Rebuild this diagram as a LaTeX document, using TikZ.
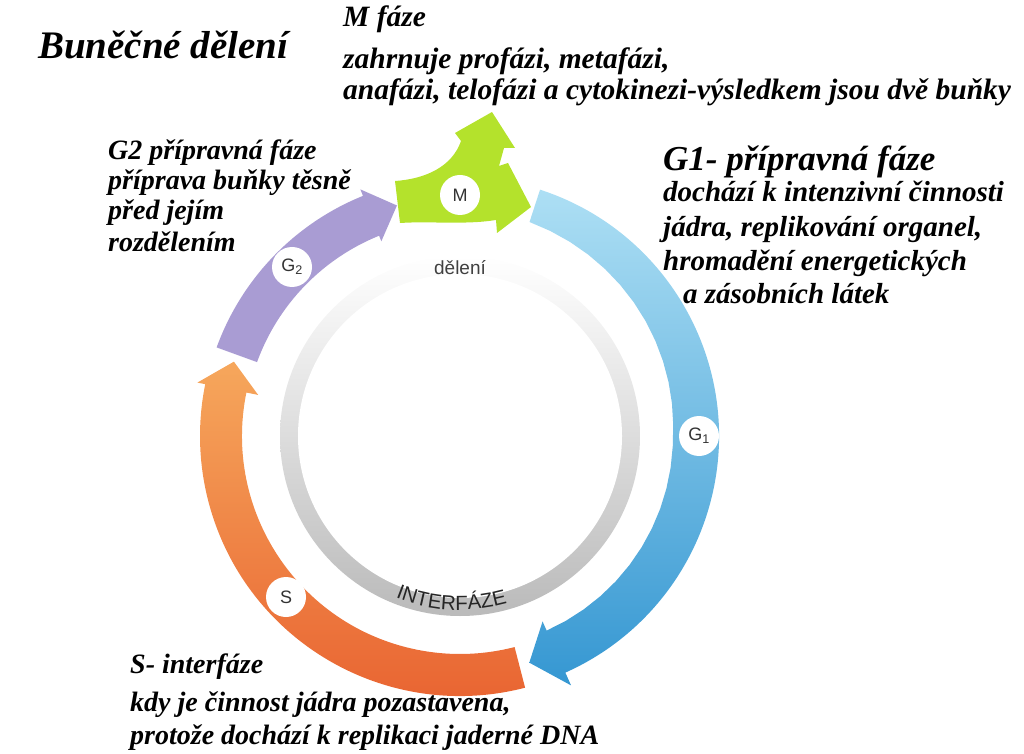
\documentclass[tikz,border=0pt]{standalone}
\usepackage{fontspec}
\setmainfont{Liberation Serif}
\setsansfont{Liberation Sans}
\usetikzlibrary{decorations.text}

\definecolor{zelenaM}{HTML}{B4E22C}
\definecolor{fialovaG}{HTML}{A99CD3}
\definecolor{modraA}{HTML}{ADDFF4}
\definecolor{modraB}{HTML}{5CBDE8}
\definecolor{modraC}{HTML}{3597D2}
\definecolor{oranzA}{HTML}{F6A75C}
\definecolor{oranzB}{HTML}{F3A2A2}
\definecolor{oranzC}{HTML}{E8602F}

\begin{document}
\begin{tikzpicture}[x=1pt, y=1pt,
    popis/.style={anchor=base west, inner sep=0pt, font=\bfseries\itshape\fontsize{28}{32}\selectfont},
    popisM/.style={popis, font=\bfseries\itshape\fontsize{29.5}{34}\selectfont},
    popisG/.style={popis, font=\bfseries\itshape\fontsize{29}{34}\selectfont},
    hlava/.style={popis, font=\bfseries\itshape\fontsize{35}{40}\selectfont},
    nadpis/.style={popis, font=\bfseries\itshape\fontsize{39}{45}\selectfont},
    znacka/.style={circle, fill=white, minimum size=40pt, inner sep=0pt,
        text=black!80, font=\sffamily\fontsize{18}{18}\selectfont}]

    \useasboundingbox (0,0) rectangle (1024,753);

    % Paso 1: centro del ciclo
    \coordinate (O) at (460,317);

    \begin{scope}[shift={(O)}]
        % Paso 2: anillo gris interior
        \shade[top color=white, middle color=black!11, bottom color=black!27] (0,0) circle (180);
        \fill[white] (0,0) circle (162);

        % Paso 3: flechas G1, S y G2
        \shade[top color=modraA, middle color=modraB, bottom color=modraC]
            (72:259) arc[start angle=72, end angle=-66, radius=259]
            -- (-66:273) -- (-73:237) -- (-66:203)
            -- plot[domain=-66:72, variable=\t] (\t:{213+max(\t,0)/6}) -- cycle;
        \shade[top color=oranzA, middle color=oranzB, bottom color=oranzC]
            (284.5:260) arc[start angle=284.5, end angle=168.5, radius=260]
            -- (168.5:268) -- (161.8:238) -- (168.5:206)
            -- (168.5:218) arc[start angle=168.5, end angle=284.5, radius=218] -- cycle;
        \fill[fialovaG]
            (160:259) arc[start angle=160, end angle=112, radius=259]
            -- (112:266) -- (105.3:239) -- (112:210)
            -- (112:216) arc[start angle=112, end angle=160, radius=216] -- cycle;

        % Paso 4: texto curvo del anillo
        \path[decorate, decoration={text along path, text align=center,
            text={|\sffamily\fontsize{20.5}{20.5}\selectfont\color{black!85}|INTERFÁZE}}]
            (230:174) arc[start angle=230, end angle=304, radius=174];
    \end{scope}

    % Paso 5: flecha verde de la fase M
    \fill[zelenaM] (400,530) -- (395,572) .. controls (425,574) and (452,586) .. (461,612)
        -- (455,620) -- (492,641) -- (515,605) -- (504,605) -- (499,587)
        -- (508,590) -- (531,546) -- (497,520) -- (496,533)
        .. controls (465,528) and (430,532) .. (400,530) -- cycle;

    % Paso 6: circulos con las fases
    \node[znacka] (M) at (460,558) {M};
    \node[znacka] (G1) at (699,317) {G\textsubscript{1}};
    \node[znacka] (G2) at (292,486) {G\textsubscript{2}};
    \node[znacka] (S) at (286,156) {S};
    \node[font=\sffamily\fontsize{19}{19}\selectfont, text=black!75] (deleni) at (460,485) {dělení};

    % Paso 7: titulo y leyendas
    \node[nadpis] (titulo) at (38,694) {Buněčné dělení};

    \node[popisM] (m1) at (343,726) {M fáze};
    \node[popisM] (m2) at (343,684) {zahrnuje profázi, metafázi,};
    \node[popisM] (m3) at (343,653) {anafázi, telofázi a cytokinezi-výsledkem jsou dvě buňky};

    \node[hlava] (g1a) at (663,582) {G1- přípravná fáze};
    \node[popisG] (g1b) at (663,551) {dochází k intenzivní činnosti};
    \node[popisG] (g1c) at (663,516) {jádra, replikování organel,};
    \node[popisG] (g1d) at (663,482) {hromadění energetických};
    \node[popisG] (g1e) at (683,449) {a zásobních látek};

    \node[popis] (g2a) at (108,593) {G2 přípravná fáze};
    \node[popis] (g2b) at (108,563) {příprava buňky těsně};
    \node[popis] (g2c) at (108,533) {před jejím};
    \node[popis] (g2d) at (108,501) {rozdělením};

    \node[popis] (sa) at (130,80) {S- interfáze};
    \node[popis] (sb) at (130,42) {kdy je činnost jádra pozastavena,};
    \node[popis] (sc) at (130,9) {protože dochází k replikaci jaderné DNA};
\end{tikzpicture}
\end{document}
